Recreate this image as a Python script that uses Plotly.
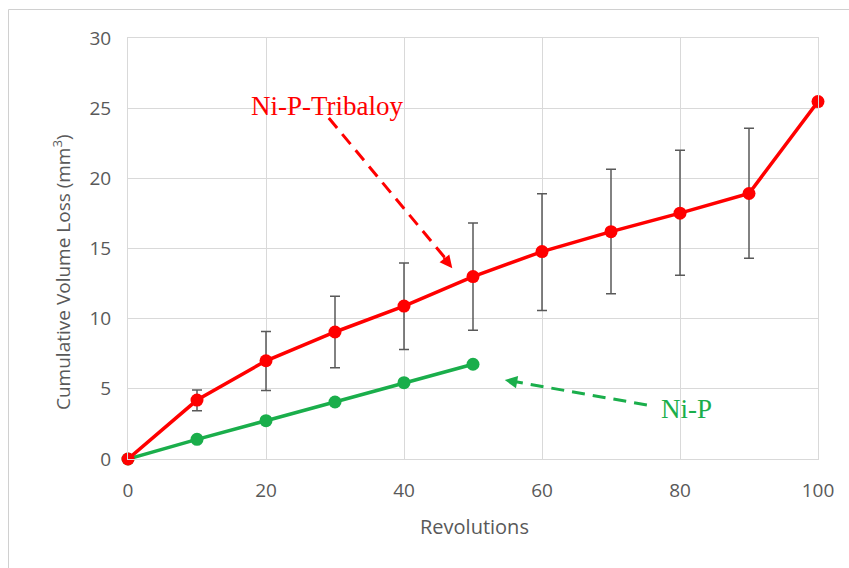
import plotly.graph_objects as go

# Data
revs_tri = [0, 10, 20, 30, 40, 50, 60, 70, 80, 90, 100]
loss_tri = [0, 4.2, 7.0, 9.05, 10.9, 13.0, 14.78, 16.2, 17.52, 18.92, 25.47]
err_up = [0, 0.72, 2.09, 2.55, 3.07, 3.82, 4.13, 4.45, 4.48, 4.65, 0]
err_dn = [0, 0.76, 2.11, 2.55, 3.1, 3.82, 4.2, 4.42, 4.43, 4.62, 0]

revs_nip = [0, 10, 20, 30, 40, 50]
loss_nip = [0, 1.4, 2.73, 4.06, 5.44, 6.75]

x_ticks = [0, 20, 40, 60, 80, 100]
y_ticks = [0, 5, 10, 15, 20, 25, 30]

RED = "#FF0000"
GREEN = "#1AAE4B"
GRAY = "#595959"

W, H = 849, 568
ML, MR, MT, MB = 128, 31, 38, 109
PW, PH = W - ML - MR, H - MT - MB

fig = go.Figure()
fig.add_trace(go.Scatter(
    x=revs_nip, y=loss_nip, mode="lines+markers",
    line=dict(color=GREEN, width=3.5),
    marker=dict(color=GREEN, size=13),
    showlegend=False, cliponaxis=False))
fig.add_trace(go.Scatter(
    x=revs_tri, y=loss_tri, mode="lines+markers",
    line=dict(color=RED, width=3.5),
    marker=dict(color=RED, size=13),
    error_y=dict(type="data", symmetric=False, array=err_up, arrayminus=err_dn,
                 color=GRAY, thickness=1.5, width=5),
    showlegend=False, cliponaxis=False))

def px2x(px):
    return (px - ML) / PW

def py2y(py):
    return 1 - (py - MT) / PH

# Frame border
fig.add_shape(type="rect", xref="paper", yref="paper",
              x0=px2x(8.5), y0=py2y(H + 20), x1=px2x(W + 20), y1=py2y(9.5),
              line=dict(color="#D0D0D0", width=1), layer="below")

# Dashed arrows
fig.add_shape(type="line", x0=29.1, y0=24.3, x1=46.0, y1=14.3,
              line=dict(color=RED, width=3, dash="13px,8px"))
fig.add_annotation(x=47.0, y=13.6, ax=45.6, ay=14.45, axref="x", ayref="y",
                   showarrow=True, arrowhead=2, arrowsize=1, arrowwidth=2.5,
                   arrowcolor=RED, text="")
fig.add_shape(type="line", x0=75.2, y0=3.85, x1=56.2, y1=5.5,
              line=dict(color=GREEN, width=3, dash="13px,8px"))
fig.add_annotation(x=54.6, y=5.63, ax=56.6, ay=5.46, axref="x", ayref="y",
                   showarrow=True, arrowhead=2, arrowsize=1, arrowwidth=2.5,
                   arrowcolor=GREEN, text="")

fig.add_annotation(xref="paper", yref="paper", x=px2x(327), y=py2y(106),
                   xanchor="center", yanchor="middle",
                   text="Ni-P-Tribaloy", showarrow=False,
                   font=dict(family="Liberation Serif", size=27, color=RED))
fig.add_annotation(xref="paper", yref="paper", x=px2x(686), y=py2y(409),
                   xanchor="center", yanchor="middle",
                   text="Ni-P", showarrow=False,
                   font=dict(family="Liberation Serif", size=27, color=GREEN))

# Axis titles
fig.add_annotation(xref="paper", yref="paper", x=px2x(62), y=py2y(272),
                   xanchor="center", yanchor="middle",
                   text="Cumulative Volume Loss (mm<sup>3</sup>)", textangle=-90,
                   showarrow=False, font=dict(family="Open Sans", size=19, color=GRAY))
fig.add_annotation(xref="paper", yref="paper", x=px2x(475), y=py2y(526),
                   xanchor="center", yanchor="middle",
                   text="Revolutions",
                   showarrow=False, font=dict(family="Open Sans", size=20, color=GRAY))

fig.update_layout(
    width=W, height=H,
    margin=dict(l=ML, r=MR, t=MT, b=MB),
    paper_bgcolor="white", plot_bgcolor="white",
    font=dict(family="Open Sans", color=GRAY),
    xaxis=dict(range=[0, 100], tickvals=x_ticks,
               showgrid=True, gridcolor="#D9D9D9", gridwidth=1,
               zeroline=False, showline=True, linecolor="#D9D9D9", mirror=True,
               tickfont=dict(size=19, color=GRAY), ticks="", ticklabelstandoff=14),
    yaxis=dict(range=[0, 30], tickvals=y_ticks,
               showgrid=True, gridcolor="#D9D9D9", gridwidth=1,
               zeroline=False, showline=True, linecolor="#D9D9D9", mirror=True,
               tickfont=dict(size=19, color=GRAY), ticks="", ticklabelstandoff=12),
)

fig.write_html("out.html")
